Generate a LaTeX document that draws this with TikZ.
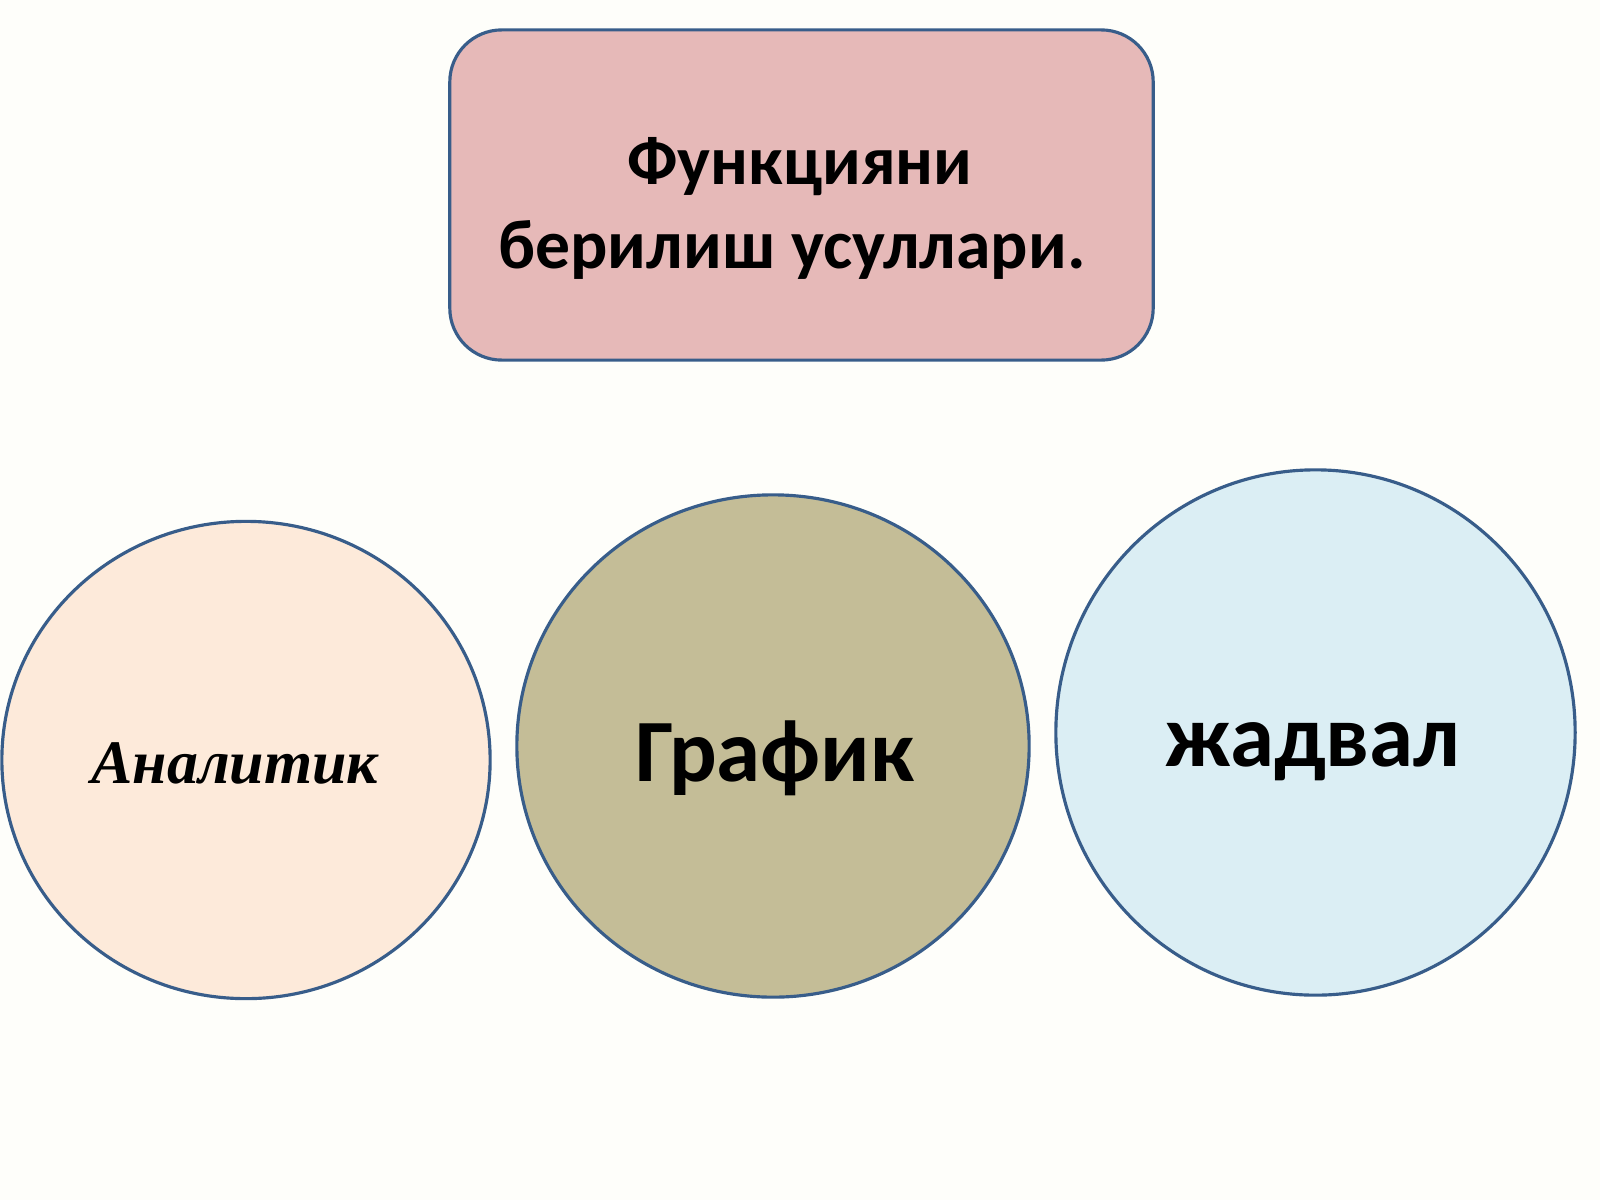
\documentclass[tikz,border=0pt]{standalone}
\usepackage{fontspec}
\setmainfont{Carlito}
\newfontfamily\timesfont{Liberation Serif}
\usetikzlibrary{shapes.geometric}
\definecolor{bgcol}{HTML}{FEFEFA}
\definecolor{edgecol}{HTML}{385D8A}
\definecolor{titlefill}{HTML}{E6B9B8}
\definecolor{peachfill}{HTML}{FDEADA}
\definecolor{olivefill}{HTML}{C4BD97}
\definecolor{bluefill}{HTML}{DBEEF4}
\tikzset{
  titlebox/.style={draw=edgecol, line width=0.9pt, fill=titlefill, rounded corners=0.52cm, inner sep=0pt, minimum width=7.03cm, minimum height=3.3cm},
  blob/.style={ellipse, draw=edgecol, line width=0.9pt, inner sep=0pt},
  titletext/.style={anchor=base, inner sep=0pt, font=\fontsize{19.8}{24}\selectfont\bfseries},
  bigtext/.style={anchor=base, inner sep=0pt, font=\fontsize{25.3}{30}\selectfont\bfseries},
  serifital/.style={anchor=base, inner sep=0pt, font=\timesfont\fontsize{17.6}{21}\selectfont\bfseries\itshape}
}
\begin{document}
\begin{tikzpicture}[x=0.01cm,y=-0.01cm]
\fill[bgcol] (0,0) rectangle (1600,1200);
\useasboundingbox (0,0) rectangle (1600,1200);
\node[titlebox] (title) at (801.5,195) {};
\node[titletext] (t1) at (800,184) {Функцияни};
\node[titletext] (t2) at (792,268) {берилиш усуллари.};
\node[blob, fill=peachfill, minimum width=4.88cm, minimum height=4.77cm] (c1) at (246,760) {};
\node[blob, fill=olivefill, minimum width=5.12cm, minimum height=5.02cm] (c2) at (773,746) {};
\node[blob, fill=bluefill, minimum width=5.19cm, minimum height=5.25cm] (c3) at (1315.5,732.5) {};
\node[serifital] (l1) at (235,783) {Аналитик};
\node[bigtext] (l2) at (775,781) {График};
\node[bigtext] (l3) at (1313,766) {жадвал};
\end{tikzpicture}
\end{document}
